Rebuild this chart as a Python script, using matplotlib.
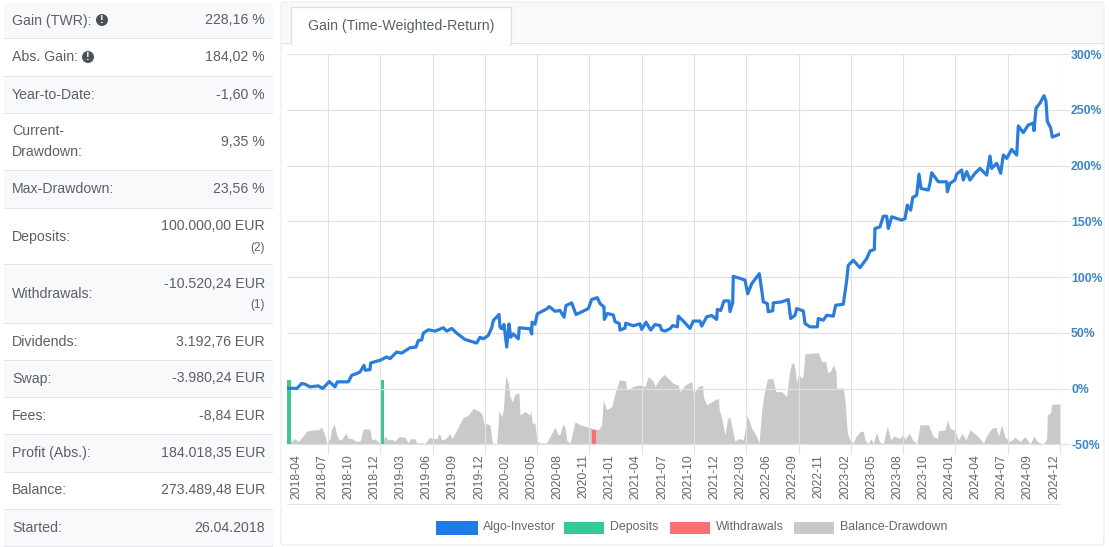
import matplotlib
matplotlib.use("Agg")
import matplotlib.pyplot as plt
from matplotlib.patches import Rectangle, Circle, FancyBboxPatch

plt.rcParams['font.family'] = ['Liberation Sans', 'DejaVu Sans']

W, H = 1109, 547

# ---- data ----
stat_labels = ["Gain (TWR):", "Abs. Gain:", "Year-to-Date:", "Current-\nDrawdown:", "Max-Drawdown:",
               "Deposits:", "Withdrawals:", "Dividends:", "Swap:", "Fees:", "Profit (Abs.):",
               "Balance:", "Started:"]
stat_values = ["228,16 %", "184,02 %", "-1,60 %", "9,35 %", "23,56 %", "100.000,00 EUR",
               "-10.520,24 EUR", "3.192,76 EUR", "-3.980,24 EUR", "-8,84 EUR", "184.018,35 EUR",
               "273.489,48 EUR", "26.04.2018"]
stat_notes = ["", "", "", "", "", "(2)", "(1)", "", "", "", "", "", ""]

x_labels = ["2018-04", "2018-07", "2018-10", "2018-12", "2019-03", "2019-06", "2019-09", "2019-12",
            "2020-02", "2020-05", "2020-08", "2020-11", "2021-01", "2021-04", "2021-07", "2021-10",
            "2021-12", "2022-03", "2022-06", "2022-09", "2022-11", "2023-02", "2023-05", "2023-08",
            "2023-10", "2024-01", "2024-04", "2024-07", "2024-09", "2024-12"]
y_ticks = [-50, 0, 50, 100, 150, 200, 250, 300]

gain_obs = [0.3, 6.3, 9.7, 14.7, 18, 23, 31.3, 35.7, 42.3, 48, 50.3, 56.3, 61.3, 64.7, 69.7, 73, 77, 78.3, 83, 83.7,
            93, 99.7, 103, 109.7, 114.7, 123, 129, 131.3, 134.7, 136.3, 141.3, 148, 156.3, 159.7, 164.7, 169.7,
            178, 189.7, 193, 196.3, 201.3, 204.7, 206.3, 212, 213, 214.7, 217, 219.7, 222, 223.7, 226.3, 231.3,
            232.3, 243, 244.7, 245, 248, 250.3, 259.7, 262.3, 268, 273, 277, 279, 284.7, 289, 293, 301.3, 304.7,
            310.3, 313, 317, 317.3, 320.3, 326.3, 328, 332.3, 333, 338, 338.7, 346.3, 353, 354.7, 359, 363.7, 368,
            373, 374.7, 378, 383, 385.7, 390.3, 391.3, 396.3, 403, 406.3, 413, 414.7, 419.7, 424.7, 429.7, 430.3,
            433.7, 437, 442, 443, 445.7, 446.3, 453, 458, 460.7, 464.7, 472.3, 474.7, 476.3, 480.3, 481.3, 485.7,
            486.3, 494.7, 501.3, 503.7, 508, 509.7, 516.3, 518, 523, 530.3, 531.3, 536.3, 539.7, 546.3, 548.7,
            556.3, 559.7, 561.3, 566.3, 573, 579.7, 583, 587.3, 588, 593, 596.3, 599.7, 601.3, 604.7, 614.7, 618,
            620.3, 623.7, 625.7, 629.7, 632, 634, 641.3, 643, 644.7, 651.3, 659.7, 660.3, 663, 668, 669.7, 674.7,
            676.3, 679.7, 683, 688, 693, 699.7, 703, 704.7, 709.7, 713.7, 716.3, 719.7, 724.7, 729.7, 731.3, 736.3,
            741.3, 746.3, 747, 749, 753, 757, 759, 760.3, 763.7, 765.3, 772.3]
gain_pct = [0, 0.3, 0, 4.5, 3.9, 1.5, 2.4, 0, 6.3, 1.5, 6, 6, 6, 11.9, 13.4, 14.9, 20.8, 16.4, 17, 23,
            25.3, 28.3, 26.8, 32.7, 31.8, 36.6, 37.2, 43, 43.6, 49.7, 52.7, 51.5, 54.5, 51.5, 53.9, 49.7,
            44, 40.8, 46, 44.6, 47.6, 54.5, 61, 66.4, 55, 53.6, 57.4, 37.2, 58, 46, 49, 44.6,
            54.5, 53.6, 49, 59.5, 57.7, 67, 71.4, 73.5, 69.3, 70, 64, 74.4, 76.8, 66.4, 68, 71.7, 79.8,
            81.5, 76.2, 73.2, 62, 67.3, 66, 60, 58.3, 52.4, 54.2, 58.6, 56.3, 58, 53, 59.5, 52.4, 57.4,
            56.5, 52.4, 51.5, 53.6, 56.5, 55.3, 64.9, 60.5, 53.9, 60.5, 60.5, 56, 64.3, 65.5, 62, 71,
            70, 78.6, 78.6, 69, 77, 100.6, 98.8, 97.2, 85, 94, 103, 88.4, 77.7, 76.2, 68.8, 69.7,
            76.8, 77.7, 79.8, 62.8, 65.7, 71.7, 69.6, 58.3, 55.3, 55.3, 62.8, 61.3, 65.7, 64.9, 74.7,
            75.6, 97, 110.5, 115, 108.4, 116.5, 123.4, 124.6, 143.5, 145, 154.5, 154.5, 143.5, 154, 151, 152.4,
            164.5, 160, 171.3, 173.4, 192.3, 179.4, 178, 184, 193.5, 185.4, 185.4, 176.4, 184, 187, 192.3, 196,
            187, 194.5, 187, 193, 197.4, 191.4, 208.5, 197.4, 202, 193, 209.4, 206.4, 214.5, 209.4, 235.5, 229.5,
            236.4, 238, 231.3, 251.4, 256, 262.6, 257.6, 239.6, 233.6, 225.5, 228]

dd_obs = [0, 8, 11.3, 14.7, 17, 19.7, 26.3, 31.3, 34.7, 38, 39.7, 43, 44.7, 47.3, 49.7, 52.3, 54.7, 58.7, 61.3, 64.7,
          68, 73, 76.3, 83, 84.7, 88, 91.3, 93, 98.3, 101.3, 104.7, 108, 112.3, 118, 121.3, 123, 128, 129.7, 134.7,
          138, 142, 149.7, 152.3, 154.7, 158.7, 163, 164.7, 168, 171.3, 175.7, 181.3, 186.3, 191.3, 194.7, 197, 203,
          205.3, 209.7, 212, 214.7, 216.3, 218.7, 221.3, 223, 225.3, 228, 232, 233, 238, 243, 243.7, 245.3, 248, 249.7,
          253, 259.7, 263, 268, 271.3, 273, 275.7, 278, 279.7, 283, 288, 293, 301.3, 311.3, 314.7, 316.3, 319.7, 324.7,
          328, 332.3, 338.7, 339.7, 348, 353, 358, 361.3, 366.3, 368, 372, 377, 381.3, 386.3, 391.3, 393, 398, 404.7,
          406.3, 412.3, 415.7, 416.3, 419.7, 428, 431.3, 432.3, 434.7, 438, 440.7, 443, 446.3, 448, 451.3, 456.3, 460.3,
          464.7, 469.7, 472, 474.7, 477, 480.3, 485.7, 489, 494.7, 499.7, 502.3, 504.7, 507.3, 509.7, 511.3, 515.7, 518,
          531.3, 534.7, 538.7, 540.7, 543, 546.3, 549, 549.7, 556.3, 558, 560.3, 563, 566.3, 569, 573, 576.3, 578, 581.3,
          583.7, 586.3, 589.7, 592.3, 596.3, 600.3, 603.7, 607, 613, 615.7, 618, 622.3, 625.7, 629.7, 633, 641.3, 646.3,
          650.3, 651.3, 658, 660.3, 663, 668, 671.3, 675.3, 678.7, 683, 686.3, 691.3, 696.3, 699.7, 704.7, 709, 711.3,
          714.7, 718, 723, 728, 733, 738, 743, 747, 750.3, 756.3, 759.7, 760.3, 763.7, 764.7, 773]
dd_pct = [0, 1.5, 0.7, 1.7, 2.4, 3.4, 3.7, 3.7, 4.4, 2.4, 0, 1.5, 4.1, 5.2, 2.4, 1.1, 1.3, 2.8, 1.5, 1.5,
          0.9, 0.7, 3.9, 3.9, 1.1, 1.4, 0.7, 0, 2.1, 1.1, 1.3, 0.9, 2, 1.8, 0.3, 1.4, 1.4, 0.3, 0.4,
          0.2, 1.7, 1.4, 2.8, 1.1, 1.5, 2.8, 1.4, 2.8, 4.5, 6.7, 7.5, 9.2, 8.6, 7.9, 5.4, 5,
          0.3, 0, 8.6, 7.1, 8.8, 17.5, 15.6, 12.2, 10.9, 12.9, 13.1, 7.5, 8.4, 7.5, 8.8, 5.4, 5.4, 1.1,
          0.3, 0.4, 2, 4.4, 2.4, 2.6, 5.1, 4.5, 1.1, 0.3, 5.8, 5, 4.4, 3.7, 5, 11.4, 8.8, 9.7,
          13.1, 16.5, 16.2, 13.9, 15, 15.2, 14.8, 17.4, 16.1, 14.8, 16.5, 17.9, 16.9, 15.6, 15.2, 13.5, 15.2, 16.1,
          13.1, 15, 15, 12.2, 10.1, 11.4, 11.8, 8.8, 6.7, 2.4, 6.7, 6.9, 2.8, 0.7, 1.5, 1.1, 7.5,
          4.1, 2, 0.3, 8.8, 12.8, 16.7, 16.9, 13.5, 13.5, 12.2, 18.2, 20.9, 20.6, 15.6, 17.8, 16.9, 23.2,
          23.5, 21.2, 21.2, 18.4, 18.6, 20.3, 18.6, 14.4, 14.4, 11.4, 3, 1.1, 0.3, 2, 3.2, 3.4, 1.1, 0.1,
          1.5, 0.3, 3.1, 0.7, 0.1, 4.7, 1.1, 2.1, 1.5, 2.6, 1.3, 2.8, 1.1, 0.1, 5, 5, 2,
          1.5, 3.5, 3.7, 6.2, 4.1, 3.5, 1.1, 2.8, 1.1, 3.7, 3, 2, 0.3, 2.2, 4.1, 4.4, 2,
          5, 1.8, 0.7, 1.8, 0.7, 2, 0.1, 2.1, 0.7, 0, 1.4, 7.5, 8.1, 10.3, 10.3]

deposit_obs = [2, 95]
deposit_pct = [16.4, 16.4]
withdrawal_obs = [307]
withdrawal_pct = [3.7]

legend_names = ["Algo-Investor", "Deposits", "Withdrawals", "Balance-Drawdown"]

# ---- colours ----
TXT = "#5a6068"
GRID = "#e0e0e0"
LINE = "#2a7ddc"
GREEN = "#3ec496"
RED = "#fb6f6f"
GRAY = "#c9c9c9"
TICKBLUE = "#3d85c6"

fig = plt.figure(figsize=(W / 100, H / 100), dpi=100, facecolor="white")


def fx(px):
    return px / W


def fy(py):
    return 1 - py / H


def frect(x0, y0, x1, y1, **kw):
    fig.add_artist(Rectangle((fx(x0), fy(y1)), fx(x1 - x0), (y1 - y0) / H,
                             transform=fig.transFigure, **kw))


def ftext(x, y, s, **kw):
    kw.setdefault("color", TXT)
    kw.setdefault("fontsize", 10.2)
    kw.setdefault("va", "center")
    fig.text(fx(x), fy(y), s, **kw)


# ---- side table ----
row_edges = [3, 38, 76, 113, 170, 208, 265, 323, 360, 397, 434, 472, 509, 546]
for i, (lab, val, note) in enumerate(zip(stat_labels, stat_values, stat_notes)):
    y0, y1 = row_edges[i], row_edges[i + 1]
    frect(4, y0, 273, y1, facecolor="#f8f9fa" if i % 2 == 0 else "white", edgecolor="none", zorder=0)
    frect(4, y1 - 0.5, 273, y1 + 0.5, facecolor="#e3e5e8", edgecolor="none", zorder=1)
    cy = (y0 + y1) / 2
    ftext(12, cy, lab, ha="left", linespacing=1.65)
    if note:
        ftext(265, cy - 10, val, ha="right")
        ftext(265, cy + 11, note, ha="right", fontsize=8.4)
    else:
        ftext(265, cy, val, ha="right")

for cx, cy in [(102, 20), (88, 57)]:
    fig.add_artist(Circle((cx, H - cy), 6, transform=None, facecolor="#4d5159", edgecolor="none", zorder=3))
    fig.text(fx(cx), fy(cy), "!", color="white", fontsize=8, fontweight="bold",
             ha="center", va="center", zorder=4)

# ---- card ----
fig.add_artist(FancyBboxPatch((281, H - 545), 823, 543, boxstyle="round,pad=0,rounding_size=3",
                              transform=None, facecolor="white", edgecolor="#eeeeee", lw=1, zorder=0))
frect(282, 3, 1103, 43, facecolor="#f8f9fa", edgecolor="none", zorder=0.5)
frect(282, 43, 1103, 44, facecolor="#dee2e6", edgecolor="none", zorder=0.6)
frect(291, 7, 511, 44, facecolor="white", edgecolor="#dee2e6", lw=1, zorder=0.7)
frect(292, 42, 510, 45, facecolor="white", edgecolor="none", zorder=0.8)
ftext(401, 26, "Gain (Time-Weighted-Return)", ha="center", fontsize=10.2, zorder=2)

# ---- chart ----
AX_L, AX_R, AX_T, AX_B = 287, 1060, 54, 444.3
rect = [fx(AX_L), fy(AX_B), fx(AX_R - AX_L), (AX_B - AX_T) / H]
ax = fig.add_axes(rect, facecolor="none")
ax.set_xlim(0, AX_R - AX_L)
ax.set_ylim(-50, 300)

ax_dd = ax.twinx()
ax_dd.set_ylim(0, 100)
ax_dd.set_zorder(1)
ax.set_zorder(2)
ax_dd.patch.set_alpha(0)
ax_dd.axis("off")

ax_dd.fill_between(dd_obs, dd_pct, 0, color=GRAY, lw=0)
ax_dd.bar(deposit_obs, deposit_pct, width=4, color=GREEN, lw=0, zorder=3)
ax_dd.bar(withdrawal_obs, withdrawal_pct, width=4, color=RED, lw=0, zorder=3)

ax.plot(gain_obs, gain_pct, color=LINE, lw=2.3, solid_joinstyle="round", zorder=5)

for s in ax.spines.values():
    s.set_visible(False)

ax.yaxis.tick_right()
ax.set_yticks(y_ticks, [f"{v}%" for v in y_ticks])
ax.tick_params(axis="y", length=7, width=0.8, color=GRID, pad=1,
               labelsize=8.8, labelcolor=TICKBLUE)
for t in ax.get_yticklabels():
    t.set_fontweight("bold")
ax.grid(axis="y", color=GRID, lw=0.8, zorder=0)

grid_obs = [41 + 52.28 * i for i in range(15)]
label_obs = [9 + 26.14 * i for i in range(len(x_labels))]
ax.set_xticks(grid_obs, [""] * len(grid_obs))
ax.set_xticks(label_obs, x_labels, minor=True, rotation=90)
ax.tick_params(axis="x", which="major", length=7, width=0.8, color=GRID)
ax.tick_params(axis="x", which="minor", length=0, pad=7, labelsize=8.8, labelcolor="#666666")
ax.grid(axis="x", which="major", color=GRID, lw=0.8)
ax.set_axisbelow(True)
ax.spines["bottom"].set_visible(True)
ax.spines["bottom"].set_color(GRID)

frect(287, 504, 1060, 505, facecolor="#e2e2e2", edgecolor="none", zorder=2)

# ---- legend ----
legend_boxes = [(436, 478, 521, 535, "#1f7ce6", 483), (564, 604, 522, 534, "#33c999", 610),
                (670, 710, 522, 534, "#ff7070", 716), (794, 834, 522, 534, "#c8c8c8", 840)]
for name, (x0, x1, y0, y1, c, tx) in zip(legend_names, legend_boxes):
    frect(x0, y0, x1, y1, facecolor=c, edgecolor="none", zorder=2)
    ftext(tx, 527, name, ha="left", fontsize=8.9, color="#666666", zorder=2)

fig.savefig("out.png", dpi=100)
